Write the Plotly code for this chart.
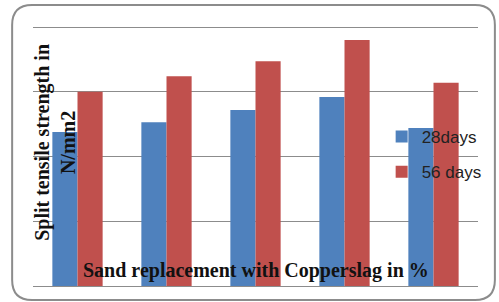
import plotly.graph_objects as go

categories = ["0%", "10%", "20%", "30%", "40%"]
days28 = [2.38, 2.53, 2.72, 2.92, 2.44]
days56 = [3.00, 3.24, 3.47, 3.80, 3.14]
series_names = ["28days", "56 days"]

BLUE = "#4F81BD"
RED = "#C0504D"

W, H = 499, 302
ML, MR, MT, MB = 33, 18, 25, 16
PW = W - ML - MR
PH = H - MT - MB
YTOP = 4 * PH / 259.0


def px(x):
    return (x - ML) / PW


def py(y):
    return (H - MB - y) / PH


fig = go.Figure()
fig.add_trace(go.Bar(x=categories, y=days28, name=series_names[0],
                     marker=dict(color=BLUE, line=dict(width=0)),
                     legendgroup="a"))
fig.add_trace(go.Bar(x=categories, y=days56, name=series_names[1],
                     marker=dict(color=RED, line=dict(width=0)),
                     legendgroup="b"))

# rounded chart border
x0, y0, x1, y1 = 12, 5, 498, 300
r = 20
path = (f"M {px(x0)},{py(y0 + r)} "
        f"Q {px(x0)},{py(y0)} {px(x0 + r)},{py(y0)} "
        f"L {px(x1 - r)},{py(y0)} "
        f"Q {px(x1)},{py(y0)} {px(x1)},{py(y0 + r)} "
        f"L {px(x1)},{py(y1 - r)} "
        f"Q {px(x1)},{py(y1)} {px(x1 - r)},{py(y1)} "
        f"L {px(x0 + r)},{py(y1)} "
        f"Q {px(x0)},{py(y1)} {px(x0)},{py(y1 - r)} Z")
fig.add_shape(type="path", path=path, xref="paper", yref="paper",
              line=dict(color="#8c8c8c", width=2), layer="below")

fig.add_annotation(text="<b>Split tensile strength in<br>N/mm2</b>",
                   xref="paper", yref="paper", x=px(55), y=py(142),
                   xanchor="center", yanchor="middle",
                   textangle=-90, showarrow=False, align="center",
                   font=dict(family="Liberation Serif", size=20, color="#111"))
fig.add_annotation(text="<b>Sand replacement with Copperslag in %</b>",
                   xref="paper", yref="paper", x=px(257), y=py(270),
                   xanchor="center", yanchor="middle",
                   showarrow=False,
                   font=dict(family="Liberation Serif", size=20, color="#111"))

fig.update_layout(
    width=W, height=H,
    margin=dict(l=ML, r=MR, t=MT, b=MB),
    paper_bgcolor="white", plot_bgcolor="white",
    barmode="group", bargap=0.435, bargroupgap=0,
    showlegend=True,
    legend=dict(x=px(384), y=py(119), xanchor="left", yanchor="top",
                bgcolor="rgba(0,0,0,0)", tracegroupgap=10,
                font=dict(family="Liberation Sans", size=17, color="#222")),
    xaxis=dict(showticklabels=False, showgrid=False, zeroline=False,
               showline=False, ticks=""),
    yaxis=dict(range=[0, YTOP], tickvals=[1, 2, 3, 4], showticklabels=False,
               showgrid=True, gridcolor="#8c8c8c", gridwidth=1,
               zeroline=True, zerolinecolor="#8c8c8c", zerolinewidth=1,
               showline=False, ticks=""),
)

fig.write_html("out.html",
               config={"displayModeBar": False},
               post_script="document.body.style.margin='0';"
                           "document.body.style.overflow='hidden';")
